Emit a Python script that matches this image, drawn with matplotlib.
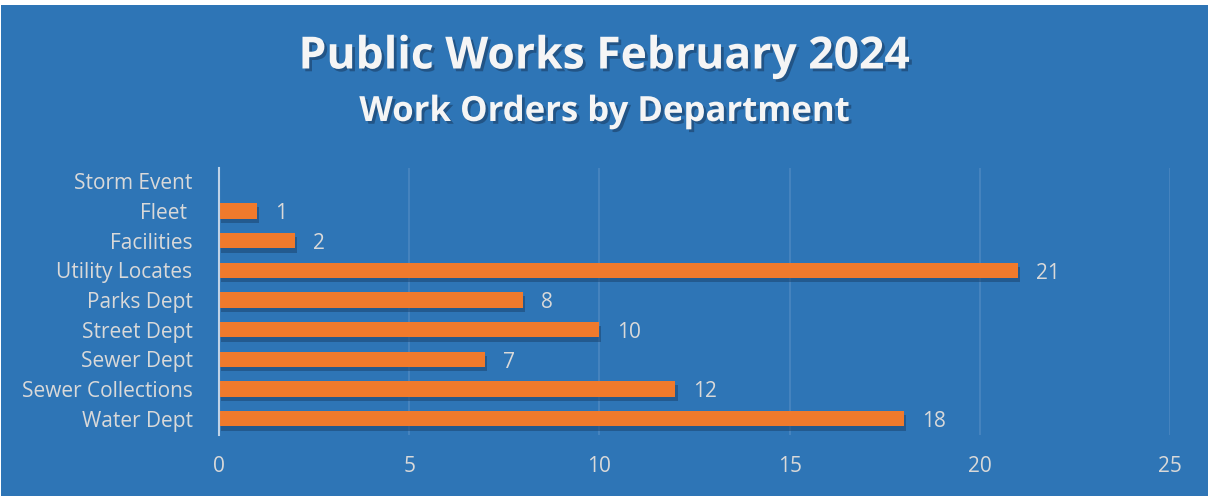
import matplotlib.pyplot as plt
import matplotlib.patheffects as pe
from matplotlib.patches import Rectangle

# 数据
departments = ['Water Dept', 'Sewer Collections', 'Sewer Dept', 'Street Dept',
               'Parks Dept', 'Utility Locates', 'Facilities', 'Fleet ', 'Storm Event']
orders = [18, 12, 7, 10, 8, 21, 2, 1, 0]
x_ticks = [0, 5, 10, 15, 20, 25]

bg = '#2E75B6'
bar_color = '#F07A2C'
txt = '#D9D9D9'

plt.rcParams['font.family'] = ['Open Sans', 'DejaVu Sans']

fig = plt.figure(figsize=(12.09, 4.96), dpi=100, facecolor='white')
fig.patches.append(Rectangle((1 / 1209, 0), 1 - 2 / 1209, 1 - 5 / 496,
                             transform=fig.transFigure, facecolor=bg,
                             edgecolor='none', zorder=-10))

ax = fig.add_axes([219 / 1209, 1 - 435 / 496, (1170 - 219) / 1209, (435 - 168) / 496])
ax.set_facecolor(bg)

# 柱子下方的阴影
shadow = [pe.SimplePatchShadow(offset=(1.5, -3), shadow_rgbFace='#1B4470', alpha=0.55), pe.Normal()]
bars = ax.barh(range(len(departments)), orders, height=0.52, color=bar_color,
               zorder=3, path_effects=shadow)

for i, v in enumerate(orders):
    if v > 0:
        ax.annotate(str(v), (v, i), xytext=(13, -2), textcoords='offset points',
                    va='center', ha='left', color=txt, fontsize=15)

ax.set_xlim(0, 25)
ax.set_ylim(-0.55, len(departments) - 0.55)
ax.set_xticks(x_ticks)
ax.set_yticks(range(len(departments)))
ax.set_yticklabels(departments)
ax.tick_params(axis='both', length=0, colors=txt, labelsize=15)
ax.tick_params(axis='x', pad=15)
ax.tick_params(axis='y', pad=19)
ax.grid(axis='x', color='#4A86C0', linewidth=1.2, zorder=0)
for s in ['top', 'right', 'bottom']:
    ax.spines[s].set_visible(False)
ax.spines['left'].set_color('#BFD3E8')
ax.spines['left'].set_linewidth(1.5)
ax.spines['left'].set_zorder(4)

title_fx = [pe.withSimplePatchShadow(offset=(2, -2), shadow_rgbFace='#1A3F66', alpha=0.6)]
fig.text(0.5, 1 - 57 / 496, 'Public Works February 2024', ha='center', va='center',
         color='#F5F5F5', fontsize=32, fontweight='bold', path_effects=title_fx)
fig.text(0.5, 1 - 112 / 496, 'Work Orders by Department', ha='center', va='center',
         color='#F5F5F5', fontsize=25, fontweight='bold', path_effects=title_fx)

plt.savefig('out.png', dpi=100, facecolor=fig.get_facecolor())
